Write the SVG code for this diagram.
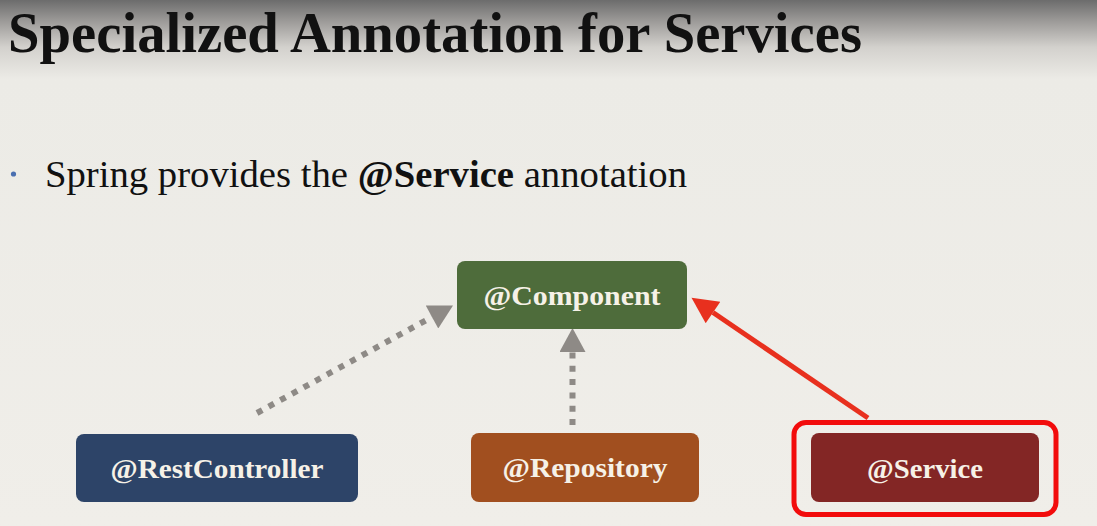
<svg xmlns="http://www.w3.org/2000/svg" width="1097" height="526" viewBox="0 0 1097 526">
  <defs>
    <linearGradient id="bg" x1="0" y1="0" x2="0" y2="1">
      <stop offset="0" stop-color="#6c6c6c"/>
      <stop offset="0.04" stop-color="#9c9a98"/>
      <stop offset="0.09" stop-color="#d3d1cd"/>
      <stop offset="0.15" stop-color="#ecebe6"/>
      <stop offset="1" stop-color="#f0eee9"/>
    </linearGradient>
    <marker id="gray-head" markerUnits="userSpaceOnUse" markerWidth="26" markerHeight="26" viewBox="0 0 24 26" refX="0" refY="13" orient="auto">
      <path d="M0,0 L24,13 L0,26 z" fill="#8e8a86"/>
    </marker>
    <marker id="red-head" markerUnits="userSpaceOnUse" markerWidth="28" markerHeight="26" viewBox="0 0 26 26" refX="0" refY="13" orient="auto">
      <path d="M0,0 L26,13 L0,26 z" fill="#e8301e"/>
    </marker>
  </defs>
  <style>
    .title { font-family: "Liberation Serif", serif; font-weight: bold; font-size: 57px; fill: #111; }
    .body { font-family: "Liberation Serif", serif; font-size: 38px; fill: #111; }
    .box { stroke: none; }
    .label { font-family: "Liberation Serif", serif; font-weight: bold; font-size: 27px; fill: #f6f1e7; text-anchor: middle; }
    .dotted { fill: none; stroke: #8e8a86; stroke-width: 6; stroke-dasharray: 6 7.3; }
  </style>

  <rect x="0" y="0" width="1097" height="526" fill="url(#bg)"/>

  <text class="title" x="8" y="52" textLength="854" lengthAdjust="spacingAndGlyphs">Specialized Annotation for Services</text>

  <circle cx="13.5" cy="174" r="2.6" fill="#4a6fb0"/>
  <text class="body" x="45" y="187" textLength="642" lengthAdjust="spacingAndGlyphs">Spring provides the <tspan font-weight="bold">@Service</tspan> annotation</text>

  <!-- connectors -->
  <g id="connectors">
    <line class="dotted" x1="257" y1="413" x2="432" y2="317" marker-end="url(#gray-head)"/>
    <line class="dotted" x1="572.5" y1="425" x2="572.5" y2="352" marker-end="url(#gray-head)"/>
    <line x1="868" y1="418" x2="713" y2="312.5" stroke="#e8301e" stroke-width="5" marker-end="url(#red-head)"/>
  </g>

  <g id="component">
    <rect class="box" x="457" y="261" width="230" height="68" rx="8" fill="#4e6c3b"/>
    <text class="label" x="572" y="305" textLength="177" lengthAdjust="spacingAndGlyphs">@Component</text>
  </g>

  <g id="restcontroller">
    <rect class="box" x="76" y="434" width="282" height="68" rx="8" fill="#2d4468"/>
    <text class="label" x="217" y="478" textLength="213" lengthAdjust="spacingAndGlyphs">@RestController</text>
  </g>

  <g id="repository">
    <rect class="box" x="471" y="433" width="228" height="69" rx="8" fill="#a14f1f"/>
    <text class="label" x="585" y="477" textLength="165" lengthAdjust="spacingAndGlyphs">@Repository</text>
  </g>

  <g id="service">
    <rect x="794" y="422.5" width="262" height="92" rx="12" fill="none" stroke="#f20c0c" stroke-width="5"/>
    <rect class="box" x="811" y="433" width="228" height="69" rx="8" fill="#832625"/>
    <text class="label" x="925" y="478" textLength="116" lengthAdjust="spacingAndGlyphs">@Service</text>
  </g>
</svg>
